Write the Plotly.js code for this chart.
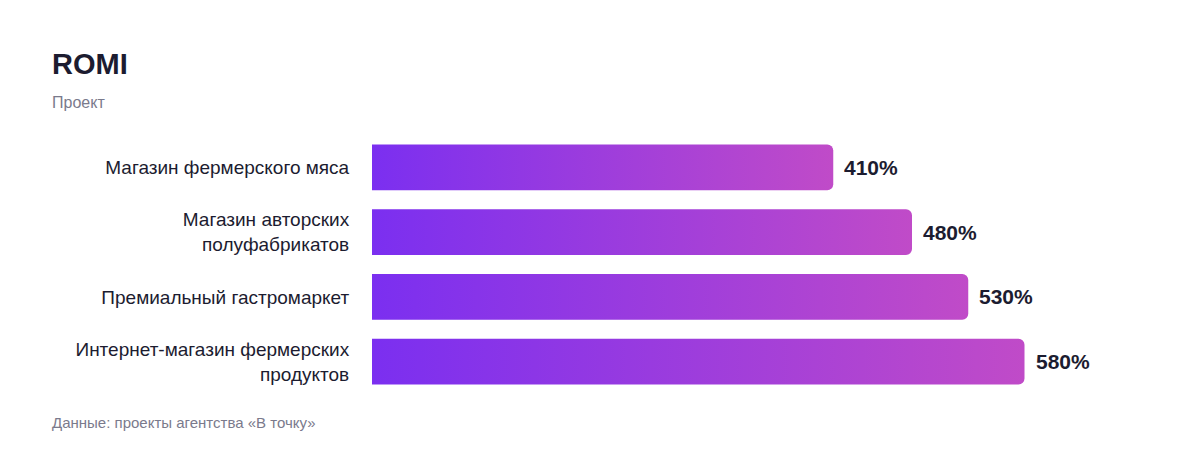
<!DOCTYPE html>
<html>
<head>
<meta charset="utf-8">
<script src="https://cdn.plot.ly/plotly-3.0.1.min.js"></script>
<style>
html,body{margin:0;padding:0;background:#fff;}
#chart{width:1200px;height:456px;}
</style>
</head>
<body>
<div id="chart"></div>
<script>
const categories = [
  "Магазин фермерского мяса",
  "Магазин авторских<br>полуфабрикатов",
  "Премиальный гастромаркет",
  "Интернет-магазин фермерских<br>продуктов"
];
const romiValues = [410, 480, 530, 580];
const valueLabels = ["410%", "480%", "530%", "580%"];
const titleText = "ROMI";
const subtitleText = "Проект";
const footerText = "Данные: проекты агентства «В точку»";

const FONT = "'Liberation Sans', Arial, Helvetica, sans-serif";
const DARK = "#1c1c30";
const GRAY = "#7a7a8c";

const plotTop = 134.5, plotH = 260;
function py(p){ return (plotTop + plotH - p) / plotH; }
const plotL = 372, plotW = 720;
function px(p){ return (p - plotL) / plotW; }

const trace = {
  type: "bar",
  orientation: "h",
  y: categories,
  x: romiValues,
  marker: { color: "#7b2ff0", cornerradius: 6 },
  hoverinfo: "none"
};

const annotations = romiValues.map((v, i) => ({
  x: v, y: categories[i], xref: "x", yref: "y",
  text: valueLabels[i], showarrow: false,
  xanchor: "left", yanchor: "middle", xshift: 9,
  font: { family: FONT, size: 21, color: DARK, weight: 700 }
}));
annotations.push({
  xref: "paper", yref: "paper", x: px(50), y: py(102),
  xanchor: "left", yanchor: "middle", showarrow: false,
  text: subtitleText, font: { family: FONT, size: 16, color: GRAY }
});
annotations.push({
  xref: "paper", yref: "paper", x: px(50), y: py(423),
  xanchor: "left", yanchor: "middle", showarrow: false,
  text: footerText, font: { family: FONT, size: 15, color: GRAY }
});

const layout = {
  width: 1200, height: 456,
  paper_bgcolor: "#fff", plot_bgcolor: "#fff",
  margin: { l: plotL, r: 1200 - plotL - plotW, t: plotTop, b: 456 - plotTop - plotH, pad: 0 },
  title: {
    text: "<b>" + titleText + "</b>",
    x: 52 / 1200, xref: "container", xanchor: "left",
    y: 1 - 64 / 456, yref: "container", yanchor: "middle",
    font: { family: FONT, size: 29, color: DARK }
  },
  xaxis: { range: [0, 640], visible: false, fixedrange: true },
  yaxis: {
    autorange: "reversed",
    showgrid: false, zeroline: false, showline: false,
    ticks: "outside", ticklen: 18, tickcolor: "rgba(0,0,0,0)",
    tickfont: { family: FONT, size: 19, color: DARK },
    fixedrange: true
  },
  bargap: 19 / 65,
  showlegend: false,
  annotations: annotations
};

Plotly.newPlot("chart", [trace], layout, { displayModeBar: false, staticPlot: true }).then(gd => {
  const svg = gd.querySelector("svg.main-svg");
  const ns = "http://www.w3.org/2000/svg";
  let defs = svg.querySelector("defs");
  if (!defs) { defs = document.createElementNS(ns, "defs"); svg.insertBefore(defs, svg.firstChild); }
  const grad = document.createElementNS(ns, "linearGradient");
  grad.setAttribute("id", "barGrad");
  grad.setAttribute("x1", "0"); grad.setAttribute("y1", "0");
  grad.setAttribute("x2", "1"); grad.setAttribute("y2", "0");
  [["0", "#7b2ff0"], ["1", "#c04bc8"]].forEach(([o, c]) => {
    const s = document.createElementNS(ns, "stop");
    s.setAttribute("offset", o); s.setAttribute("stop-color", c);
    grad.appendChild(s);
  });
  defs.appendChild(grad);
  gd.querySelectorAll(".bars .point path").forEach(p => { p.style.fill = "url(#barGrad)"; });
});
</script>
</body>
</html>
